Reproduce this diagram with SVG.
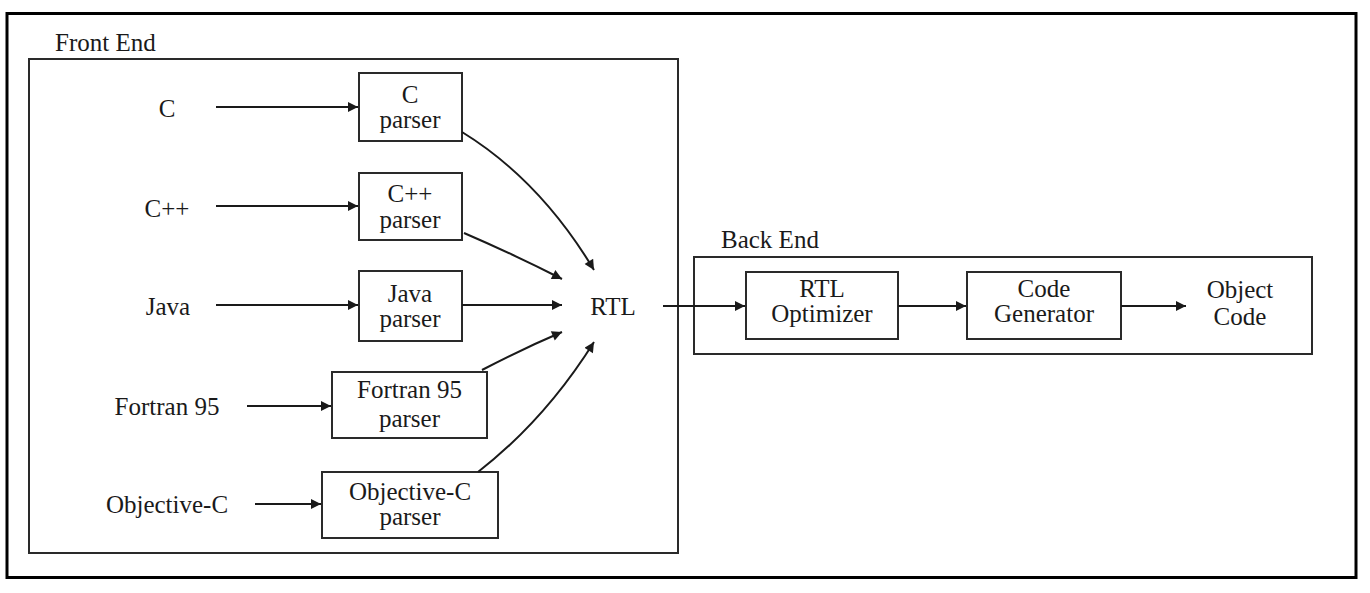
<svg xmlns="http://www.w3.org/2000/svg" width="1370" height="593" viewBox="0 0 1370 593">
<style>
text{font-family:"Liberation Serif","Times New Roman",serif;font-size:25px;fill:#1a1a1a}
.m{text-anchor:middle}
.box{fill:#fff;stroke:#2a2a2a;stroke-width:2}
.grp{fill:none;stroke:#2a2a2a;stroke-width:2}
.edge{fill:none;stroke:#1a1a1a;stroke-width:2;marker-end:url(#ah)}
</style>
<defs>
<marker id="ah" viewBox="0 0 10 10" refX="10" refY="5" markerWidth="7" markerHeight="5" markerUnits="strokeWidth" orient="auto">
<path d="M0,0 L10,5 L0,10 z" fill="#1a1a1a"/>
</marker>
</defs>
<rect x="0" y="0" width="1370" height="593" fill="#fff"/>
<rect x="7" y="13.5" width="1349" height="564" fill="none" stroke="#000" stroke-width="3"/>

<g id="front-end">
<rect class="grp" x="29" y="59" width="649" height="494"/>
<text x="55" y="51">Front End</text>
</g>
<g id="back-end">
<rect class="grp" x="694" y="257" width="618" height="97"/>
<text x="721" y="248">Back End</text>
</g>

<g id="src-c"><text class="m" x="167" y="117">C</text></g>
<g id="src-cpp"><text class="m" x="167" y="217">C++</text></g>
<g id="src-java"><text class="m" x="168" y="315">Java</text></g>
<g id="src-fortran"><text class="m" x="167" y="415">Fortran 95</text></g>
<g id="src-objc"><text class="m" x="167" y="513">Objective-C</text></g>

<g id="c-parser">
<rect class="box" x="359" y="73" width="103" height="68"/>
<text class="m" x="410" y="103">C</text>
<text class="m" x="410" y="128">parser</text>
</g>
<g id="cpp-parser">
<rect class="box" x="359" y="173" width="103" height="67"/>
<text class="m" x="410" y="202">C++</text>
<text class="m" x="410" y="228">parser</text>
</g>
<g id="java-parser">
<rect class="box" x="359" y="271" width="103" height="70"/>
<text class="m" x="410" y="302">Java</text>
<text class="m" x="410" y="327">parser</text>
</g>
<g id="fortran-parser">
<rect class="box" x="332" y="372" width="155" height="66"/>
<text class="m" x="409.5" y="398">Fortran 95</text>
<text class="m" x="409.5" y="427">parser</text>
</g>
<g id="objc-parser">
<rect class="box" x="322" y="472" width="176" height="66"/>
<text class="m" x="410" y="500">Objective-C</text>
<text class="m" x="410" y="525">parser</text>
</g>

<g id="rtl"><text class="m" x="613" y="315">RTL</text></g>

<g id="rtl-optimizer">
<rect class="box" x="746" y="272" width="152" height="67"/>
<text class="m" x="822" y="297">RTL</text>
<text class="m" x="822" y="322">Optimizer</text>
</g>
<g id="code-generator">
<rect class="box" x="967" y="272" width="154" height="67"/>
<text class="m" x="1044" y="297">Code</text>
<text class="m" x="1044" y="322">Generator</text>
</g>
<g id="object-code">
<text class="m" x="1240" y="298">Object</text>
<text class="m" x="1240" y="325">Code</text>
</g>

<g id="connectors">
<path class="edge" d="M216,107 L358,107"/>
<path class="edge" d="M216,206 L358,206"/>
<path class="edge" d="M216,305 L358,305"/>
<path class="edge" d="M247,406 L331,406"/>
<path class="edge" d="M255,504 L321,504"/>
<path class="edge" d="M462,132 Q540,180 594,270"/>
<path class="edge" d="M464,233 Q515,255 562,279"/>
<path class="edge" d="M462,305 L562,305"/>
<path class="edge" d="M482,370 Q520,350 562,332"/>
<path class="edge" d="M478,472 Q545,420 594,342"/>
<path class="edge" d="M663,306 L745,306"/>
<path class="edge" d="M898,306 L966,306"/>
<path class="edge" d="M1121,306 L1186,306"/>
</g>
</svg>
